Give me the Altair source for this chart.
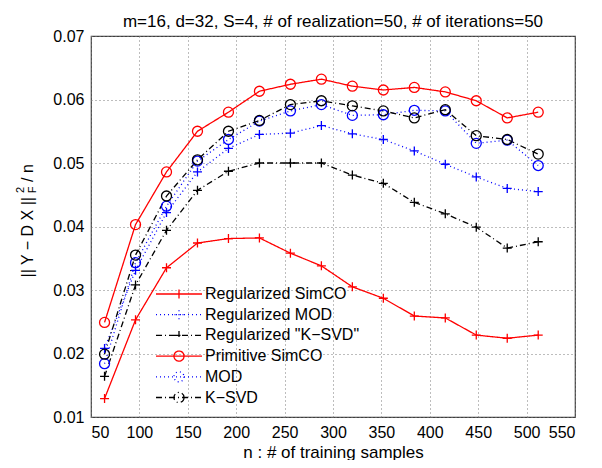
import altair as alt
import pandas as pd

# ---------------- data ----------------
n_samples = [64, 96, 128, 160, 192, 224, 256, 288, 320, 352, 384, 416, 448, 480, 512]

series_names = [
    "Regularized SimCO",
    "Regularized MOD",
    'Regularized "K\u2212SVD"',
    "Primitive SimCO",
    "MOD",
    "K\u2212SVD",
]

reg_simco = [0.0129, 0.0253, 0.0335, 0.0374, 0.0381, 0.0382, 0.0358, 0.0338,
             0.0305, 0.0287, 0.0259, 0.0256, 0.0229, 0.0224, 0.0229]
reg_mod = [0.0208, 0.0331, 0.0422, 0.0486, 0.0523, 0.0545, 0.0547, 0.0559,
           0.0546, 0.0537, 0.0519, 0.0498, 0.0478, 0.0460, 0.0455]
reg_ksvd = [0.0164, 0.0308, 0.0394, 0.0457, 0.0487, 0.0500, 0.0500, 0.0500,
            0.0481, 0.0468, 0.0438, 0.0420, 0.0399, 0.0366, 0.0376]
prim_simco = [0.0249, 0.0403, 0.0486, 0.0550, 0.0580, 0.0613, 0.0624, 0.0632,
              0.0621, 0.0615, 0.0619, 0.0612, 0.0598, 0.0571, 0.0580]
mod = [0.0184, 0.0343, 0.0432, 0.0503, 0.0537, 0.0566, 0.0582, 0.0592,
       0.0575, 0.0576, 0.0583, 0.0582, 0.0531, 0.0536, 0.0496]
ksvd = [0.0199, 0.0355, 0.0448, 0.0505, 0.0550, 0.0567, 0.0592, 0.0598,
        0.0590, 0.0582, 0.0571, 0.0584, 0.0543, 0.0537, 0.0514]

all_values = [reg_simco, reg_mod, reg_ksvd, prim_simco, mod, ksvd]

x_ticks = [50, 100, 150, 200, 250, 300, 350, 400, 450, 500, 550]
y_ticks = [0.01, 0.02, 0.03, 0.04, 0.05, 0.06, 0.07]

title_text = "m=16, d=32, S=4, # of realization=50, # of iterations=50"

rows = []
for name, vals in zip(series_names, all_values):
    for xv, yv in zip(n_samples, vals):
        rows.append({"series": name, "n": xv, "err": yv})
df = pd.DataFrame(rows)

# ---------------- styles ----------------
FONT = "Liberation Sans"
colors = ["#ff0000", "#0000ff", "#000000", "#ff0000", "#0000ff", "#000000"]
dashes = [[1, 0], [1, 3], [6, 3, 1, 3], [1, 0], [1, 3], [6, 3, 1, 3]]
PLUS = "M-1,0L1,0M0,-1L0,1"

# legend glyphs: a dashed line sample (dashes baked into the path) + solid marker
LEG_UNIT = 9.0     # half of sqrt(symbolSize)
LEG_HALF = 23.0    # half length of line sample in px


def line_sample(pattern):
    if pattern is None:
        return f"M{-LEG_HALF / LEG_UNIT:.3f},0L{LEG_HALF / LEG_UNIT:.3f},0"
    out = []
    pos, i = -LEG_HALF, 0
    while pos < LEG_HALF:
        seg = pattern[i % len(pattern)]
        end = min(pos + seg, LEG_HALF)
        if i % 2 == 0:
            out.append(f"M{pos / LEG_UNIT:.3f},0L{end / LEG_UNIT:.3f},0")
        pos += seg
        i += 1
    return "".join(out)


PLUS_M = "M-0.5,0L0.5,0M0,-0.5L0,0.5"
CIRC_M = "M0.56,0A0.56,0.56,0,1,1,-0.56,0A0.56,0.56,0,1,1,0.56,0"
leg_patterns = [None, [1, 3], [6, 3, 1, 3], None, [1, 3], [6, 3, 1, 3]]
leg_markers = [PLUS_M, PLUS_M, PLUS_M, CIRC_M, CIRC_M, CIRC_M]
leg_shapes = [line_sample(p) + m for p, m in zip(leg_patterns, leg_markers)]

color_scale = alt.Scale(domain=series_names, range=colors)
dash_scale = alt.Scale(domain=series_names, range=dashes)

x_enc = alt.X("n:Q", scale=alt.Scale(domain=[50, 550], nice=False),
              axis=alt.Axis(values=x_ticks, title="n : # of training samples",
                            grid=True, ticks=False, domain=False,
                            labelPadding=7, titlePadding=4))
y_enc = alt.Y("err:Q", scale=alt.Scale(domain=[0.01, 0.07], nice=False),
              axis=alt.Axis(values=y_ticks, title=None, format=".2f",
                            grid=True, ticks=False, domain=False,
                            labelPadding=7))

base = alt.Chart(df)

legend_def = alt.Legend(
    orient="none", legendX=78, legendY=248, title=None, padding=0,
    labelFont=FONT, labelFontSize=16, labelColor="black", labelOffset=16,
    symbolSize=324, symbolStrokeWidth=1.3, rowPadding=2.7, symbolOpacity=1,
)

# legend-only layer (comes first so its legend settings win the merge)
legend_layer = base.transform_filter("datum.n < 0").mark_point(
    filled=False, strokeWidth=1.3, opacity=1
).encode(
    x=x_enc, y=y_enc,
    color=alt.Color("series:N", scale=color_scale, legend=legend_def),
    shape=alt.Shape("series:N", scale=alt.Scale(domain=series_names, range=leg_shapes),
                    legend=legend_def),
)

lines = base.mark_line(strokeWidth=1.3).encode(
    x="n:Q", y="err:Q",
    color=alt.Color("series:N", scale=color_scale, legend=None),
    strokeDash=alt.StrokeDash("series:N", scale=dash_scale, legend=None),
    detail="series:N",
)

plus_pts = base.transform_filter(
    alt.FieldOneOfPredicate(field="series", oneOf=series_names[:3])
).mark_point(shape=PLUS, filled=False, size=81, strokeWidth=1.3, opacity=1).encode(
    x="n:Q", y="err:Q",
    color=alt.Color("series:N", scale=color_scale, legend=None),
)

circ_pts = base.transform_filter(
    alt.FieldOneOfPredicate(field="series", oneOf=series_names[3:])
).mark_point(shape="circle", filled=False, size=100, strokeWidth=1.3, opacity=1).encode(
    x="n:Q", y="err:Q",
    color=alt.Color("series:N", scale=color_scale, legend=None),
)

one = pd.DataFrame({"k": [0]})
title_mark = alt.Chart(one).mark_text(
    text=title_text, align="center", baseline="alphabetic",
    font=FONT, fontSize=17, color="black"
).encode(x=alt.value(242), y=alt.value(-9.5))
ytitle_main = alt.Chart(one).mark_text(
    text="|| Y \u2212 D X ||", angle=270, align="right", baseline="middle",
    font=FONT, fontSize=16, color="black"
).encode(x=alt.value(-63.5), y=alt.value(161))
ytitle_sup = alt.Chart(one).mark_text(
    text="2", angle=270, align="center", baseline="middle",
    font=FONT, fontSize=11, color="black"
).encode(x=alt.value(-70), y=alt.value(154))
ytitle_sub = alt.Chart(one).mark_text(
    text="F", angle=270, align="center", baseline="middle",
    font=FONT, fontSize=11, color="black"
).encode(x=alt.value(-58), y=alt.value(154))
ytitle_end = alt.Chart(one).mark_text(
    text="/ n", angle=270, align="left", baseline="middle",
    font=FONT, fontSize=16, color="black"
).encode(x=alt.value(-63.5), y=alt.value(146))

chart = alt.layer(
    legend_layer, lines, plus_pts, circ_pts, title_mark,
    ytitle_main, ytitle_sup, ytitle_sub, ytitle_end,
).properties(
    width=484, height=381,
    autosize=alt.AutoSizeParams(type="none"),
    padding={"left": 83, "top": 28, "right": 19, "bottom": 43},
).configure_view(
    stroke="#404040", strokeWidth=1.2
).configure_axis(
    labelFont=FONT, labelFontSize=16, labelColor="black",
    titleFont=FONT, titleFontSize=17, titleFontWeight="normal", titleColor="black",
    gridColor="#7a7a7a", gridDash=[1, 3], gridWidth=1, gridOpacity=1,
)

chart.save("out.html", embed_options={"renderer": "svg", "actions": False})
